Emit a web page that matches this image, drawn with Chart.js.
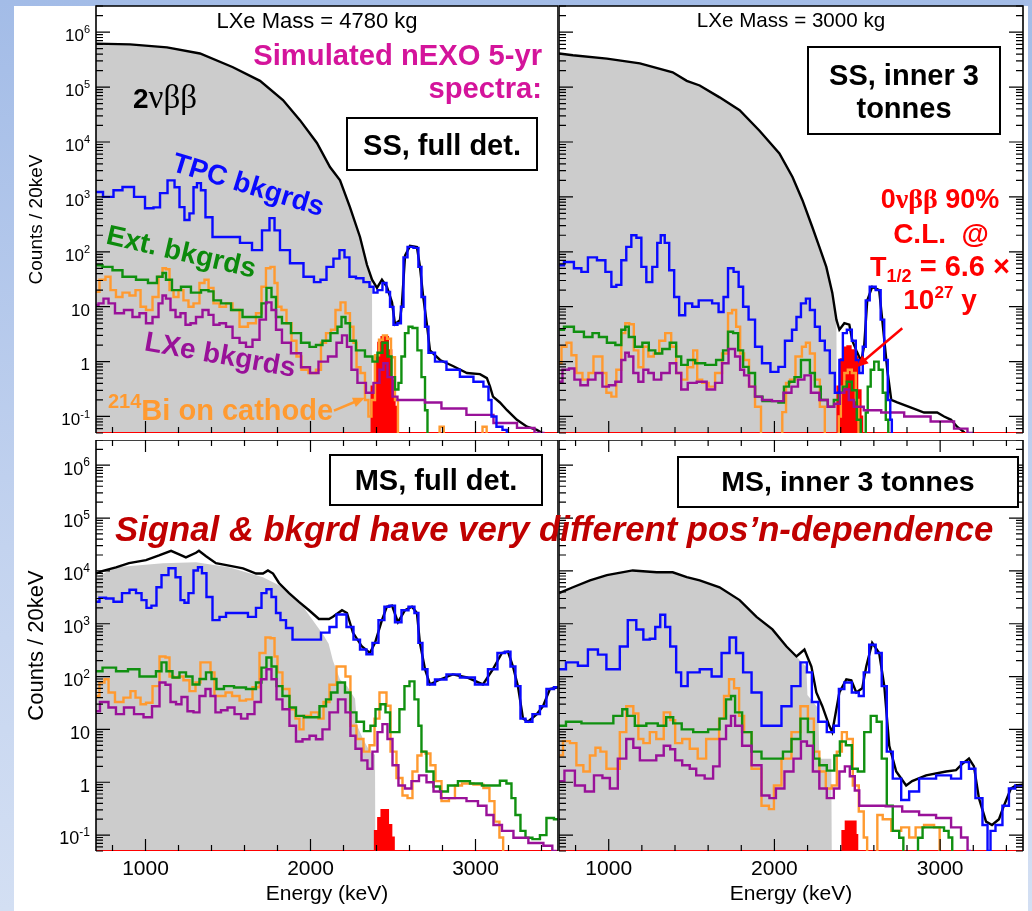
<!DOCTYPE html>
<html>
<head>
<meta charset="utf-8">
<title>nEXO simulated 5-yr spectra</title>
<script src="https://cdn.jsdelivr.net/npm/chart.js@4.4.1/dist/chart.umd.min.js"></script>
<style>
  html, body { margin: 0; padding: 0; }
  body { width: 1032px; height: 911px; overflow: hidden; position: relative;
         background: linear-gradient(to bottom, #a3bce7 0%, #c3d3ef 60%, #d3dff3 100%); }
  #sheet { position: absolute; left: 14px; top: 6px; width: 1014px; height: 905px; background: #fff; }
  canvas { position: absolute; }
</style>
</head>
<body>
<div id="sheet"></div>
<canvas id="ssFull" width="560" height="440" style="left:0;top:0"></canvas>
<canvas id="ssInner" width="473" height="440" style="left:559px;top:0"></canvas>
<canvas id="msFull" width="560" height="471" style="left:0;top:440px"></canvas>
<canvas id="msInner" width="473" height="471" style="left:559px;top:440px"></canvas>
<canvas id="notes" width="1032" height="911" style="left:0;top:0"></canvas>
<script>
// axis ticks / labels
const energyTicks = [800, 1000, 1200, 1400, 1600, 1800, 2000, 2200, 2400, 2600, 2800, 3000, 3200, 3400];
const energyLabels = [1000, 2000, 3000];
const decades = [-1, 0, 1, 2, 3, 4, 5, 6];
const ymin = 0.05, ymax = 3e6;

// ---- SS, full detector (4780 kg) : [energy keV, counts / 20 keV] ----
const ssFullTotal = [[700,6.2e5],[906,6.0e5],[1130,5.3e5],[1330,4.1e5],[1530,2.3e5],[1694,1.3e5],[1833,5.8e4],[1936,2.5e4],[2039,9.6e3],[2118,3.5e3],[2179,2.0e3],[2239,650],[2300,186],[2342,58],[2373,31],[2403,22],[2433,31],[2463,23],[2494,12],[2512,4.8],[2542,5.7],[2554,11],[2573,85],[2603,128],[2645,122],[2663,55],[2682,16],[2706,4.6],[2724,1.6],[2785,1.07],[2863,0.83],[2948,0.62],[3027,0.59],[3069,0.5],[3088,0.35],[3106,0.23],[3148,0.18],[3191,0.13],[3251,0.087],[3312,0.065],[3372,0.057],[3403,0.05],[3420,0.01]];
const ssFullTwoNu = [[700,6.2e5],[906,6.0e5],[1130,5.3e5],[1330,4.1e5],[1530,2.3e5],[1694,1.3e5],[1833,5.8e4],[1936,2.5e4],[2039,9.6e3],[2118,3.5e3],[2179,2.0e3],[2239,650],[2300,186],[2342,58],[2373,31],[2376,0.01]];
const ssFullTpc = [[700,1230],[785,1000],[827,1320],[894,1510],[967,1000],[1027,620],[1070,645],[1106,1170],[1161,2000],[1191,1500],[1221,650],[1251,380],[1282,500],[1300,1500],[1324,1780],[1348,1320],[1379,425],[1433,186],[1530,186],[1615,145],[1676,107],[1736,245],[1767,410],[1797,245],[1833,107],[1918,62],[1997,35],[2045,28],[2076,31],[2118,53],[2160,75],[2191,107],[2221,79],[2251,35],[2300,33],[2342,28],[2373,23],[2391,18],[2421,20],[2451,27],[2470,18.5],[2494,9.9],[2512,4.7],[2542,5.0],[2554,10],[2573,79],[2603,123],[2645,118],[2663,53],[2682,15],[2706,4.3],[2724,1.45],[2785,1.0],[2863,0.71],[2948,0.53],[3027,0.43],[3069,0.35],[3088,0.2],[3106,0.1],[3148,0.065],[3179,0.057],[3200,0.01]];
const ssFullExt = [[700,57],[779,53],[821,46],[900,35],[985,31],[1045,27],[1094,35],[1112,41],[1136,31],[1185,20],[1245,23],[1306,18],[1367,20],[1397,19],[1427,13],[1488,11.5],[1549,8.7],[1627,6.5],[1688,6.5],[1718,11.5],[1748,22],[1779,15],[1803,6.5],[1851,5.0],[1912,3.3],[1973,2.2],[2015,1.85],[2051,2.0],[2094,2.4],[2148,3.3],[2179,4.3],[2197,6.5],[2227,5.0],[2251,2.4],[2300,1.6],[2360,1.24],[2391,1.0],[2421,1.45],[2451,2.2],[2482,1.24],[2500,0.52],[2524,0.31],[2542,0.41],[2560,1.24],[2585,3.3],[2603,4.3],[2633,4.1],[2663,1.6],[2682,0.52],[2706,0.13],[2712,0.01]];
const ssFullBi = [[700,18.6],[742,31],[773,35],[803,20],[839,15],[882,18],[924,16],[955,20],[985,10],[1021,8.7],[1064,15],[1094,35],[1112,50],[1136,48],[1155,20],[1185,15],[1215,20],[1245,13],[1276,10],[1306,11.5],[1348,27],[1367,31],[1397,22],[1427,11.5],[1470,10],[1506,11.5],[1549,8.7],[1591,4.3],[1651,5],[1688,7.6],[1718,23],[1742,50],[1773,53],[1791,27],[1809,10],[1839,8.7],[1870,5],[1900,2.4],[1930,1.24],[1960,0.71],[2015,0.62],[2051,0.71],[2076,2.2],[2112,3.3],[2136,3.8],[2167,8.7],[2197,12],[2227,7.6],[2251,4.3],[2270,2.2],[2288,0.79],[2318,0.62],[2342,0.2],[2360,0.1],[2379,0.2],[2403,1.3],[2427,2.5],[2451,3.0],[2476,2.6],[2500,1.2],[2524,0.2],[2536,0.01],[2780,0.01],[2785,0.065],[2805,0.065],[2810,0.01],[3040,0.01],[3045,0.065],[3065,0.065],[3070,0.01]];
const ssFullLxe = [[700,10.7],[730,11.5],[761,14],[791,11.5],[839,7.6],[900,8.7],[942,6.5],[985,7.6],[1021,5],[1064,6.5],[1094,11.5],[1112,16],[1136,14],[1167,8.7],[1197,6.5],[1227,7.6],[1258,4.7],[1288,5],[1324,6.5],[1367,8.7],[1397,7.1],[1427,4.7],[1470,5],[1506,4.3],[1549,2.7],[1591,2.2],[1627,1.85],[1670,2.5],[1712,5.8],[1748,12],[1779,8.7],[1803,3.8],[1851,2.2],[1912,1.42],[1973,0.79],[2021,0.62],[2076,1.0],[2136,1.24],[2179,2.2],[2203,3.0],[2239,1.85],[2257,0.71],[2312,0.41],[2360,0.27],[2403,0.41],[2433,0.71],[2451,0.93],[2482,0.52],[2512,0.23],[2542,0.2],[2663,0.2],[2724,0.18],[2863,0.14],[3027,0.107],[3191,0.076],[3312,0.062],[3403,0.05],[3420,0.01]];
const ssFullSignal = [[700,0.05],[2370,0.35],[2390,1.2],[2410,2.2],[2430,2.8],[2450,2.8],[2470,1.6],[2490,0.45],[2510,0.15],[2525,0.05],[3500,0.05]];

// ---- SS, inner 3 tonnes (3000 kg) ----
const ssInnerTotal = [[700,4.1e5],[784,3.8e5],[989,3.3e5],[1188,2.7e5],[1386,1.86e5],[1471,1.3e5],[1549,1.07e5],[1669,6.5e4],[1790,3.8e4],[1910,1.6e4],[2030,6.2e3],[2109,2.3e3],[2169,870],[2229,280],[2271,123],[2313,53],[2349,18],[2374,5.8],[2392,3.8],[2422,5.0],[2452,4.7],[2470,2.4],[2494,1.6],[2524,1.0],[2542,2.0],[2560,13],[2590,23],[2632,20],[2650,6],[2681,0.71],[2705,0.2],[2741,0.18],[2825,0.145],[2903,0.118],[2982,0.118],[3024,0.1],[3066,0.087],[3102,0.065],[3144,0.052],[3160,0.01]];
const ssInnerTwoNu = [[700,4.1e5],[784,3.8e5],[989,3.3e5],[1188,2.7e5],[1386,1.86e5],[1471,1.3e5],[1549,1.07e5],[1669,6.5e4],[1790,3.8e4],[1910,1.6e4],[2030,6.2e3],[2109,2.3e3],[2169,870],[2229,280],[2271,123],[2313,53],[2349,18],[2374,5.8],[2378,0.01]];
const ssInnerTpc = [[700,57],[760,65],[820,50],[850,43],[899,79],[959,70],[1001,43],[1031,23],[1061,25],[1091,70],[1121,123],[1152,200],[1182,180],[1212,53],[1242,28],[1284,53],[1302,145],[1326,200],[1350,145],[1380,46],[1410,15],[1440,7],[1483,11.5],[1525,10],[1561,13],[1603,13],[1645,11.5],[1681,8],[1705,15],[1735,50],[1772,43],[1796,23],[1826,10],[1862,5.8],[1904,1.86],[1946,0.93],[2006,0.65],[2042,0.8],[2085,2.4],[2127,3.8],[2139,6.5],[2181,11.5],[2199,14],[2229,8.7],[2259,4.3],[2289,2.4],[2319,1.6],[2349,0.62],[2380,0.27],[2404,1.07],[2422,3.3],[2452,3.8],[2482,2.4],[2500,1.07],[2524,0.62],[2542,1.86],[2560,13],[2590,23],[2632,20],[2650,5.8],[2675,1.07],[2693,0.2],[2705,0.087],[2712,0.01]];
const ssInnerExt = [[700,3.8],[760,4.3],[820,3.5],[881,2.8],[923,3.3],[959,2.8],[1019,2.2],[1061,2.0],[1091,3.8],[1109,4.3],[1133,2.8],[1182,1.86],[1224,2.2],[1260,1.6],[1302,1.4],[1344,1.7],[1392,2.2],[1422,1.24],[1453,0.87],[1501,1.07],[1543,0.93],[1621,0.87],[1675,1.07],[1705,1.6],[1735,3.5],[1766,3.3],[1796,1.6],[1826,0.8],[1862,0.62],[1904,0.23],[1952,0.19],[2006,0.19],[2042,0.18],[2073,0.35],[2103,0.43],[2139,0.52],[2181,1.07],[2199,1.07],[2229,0.62],[2259,0.35],[2301,0.2],[2343,0.15],[2374,0.2],[2404,0.27],[2422,0.35],[2452,0.43],[2482,0.3],[2512,0.087],[2530,0.01],[2548,0.01],[2554,0.118],[2572,0.35],[2590,0.71],[2614,1.0],[2644,0.71],[2663,0.27],[2681,0.087],[2693,0.01]];
const ssInnerBi = [[700,0.93],[730,1.86],[760,2.2],[790,1.3],[820,0.62],[863,0.47],[893,0.62],[923,1.24],[953,1.24],[971,0.62],[1001,0.27],[1031,0.23],[1061,0.71],[1091,3.3],[1109,5.0],[1139,4.8],[1164,1.6],[1194,0.79],[1224,1.86],[1254,1.24],[1290,1.4],[1320,2.4],[1362,3.3],[1392,1.86],[1422,0.62],[1453,0.47],[1495,0.79],[1525,1.6],[1543,0.47],[1585,0.41],[1621,0.35],[1663,0.62],[1705,1.4],[1735,7.6],[1754,8.7],[1784,4.3],[1802,1.4],[1832,1.07],[1862,0.35],[1904,0.15],[1934,0.01],[2040,0.01],[2055,0.12],[2085,0.41],[2103,0.47],[2151,1.24],[2181,1.86],[2199,2.2],[2229,1.4],[2259,0.47],[2289,0.15],[2319,0.01],[2385,0.01],[2392,0.1],[2410,0.35],[2434,0.62],[2452,0.71],[2482,0.62],[2500,0.2],[2515,0.01]];
const ssInnerLxe = [[700,0.43],[742,0.71],[778,0.75],[808,0.47],[850,0.37],[899,0.47],[941,0.62],[983,0.35],[1019,0.37],[1061,0.43],[1091,1.07],[1109,1.45],[1133,1.24],[1164,0.62],[1194,0.43],[1224,0.71],[1254,0.62],[1290,0.47],[1344,0.62],[1392,0.93],[1422,0.62],[1453,0.31],[1501,0.41],[1561,0.43],[1621,0.31],[1663,0.41],[1705,0.93],[1741,1.7],[1784,1.24],[1802,0.71],[1832,0.56],[1862,0.35],[1904,0.23],[1946,0.2],[2024,0.19],[2085,0.27],[2121,0.35],[2163,0.47],[2199,0.56],[2241,0.27],[2301,0.2],[2343,0.15],[2380,0.17],[2410,0.27],[2434,0.31],[2464,0.2],[2494,0.15],[2584,0.13],[2705,0.118],[2861,0.1],[3024,0.081],[3144,0.06],[3186,0.05],[3200,0.01]];
const ssInnerSignal = [[700,0.05],[2380,0.35],[2400,1.1],[2420,1.8],[2440,1.9],[2460,1.6],[2480,1.2],[2500,0.3],[2520,0.1],[2530,0.05],[3500,0.05]];

// ---- MS, full detector ----
const msFullTotal = [[700,8.9e3],[742,1.0e4],[821,1.17e4],[900,1.4e4],[1003,1.6e4],[1082,1.96e4],[1155,2.4e4],[1197,2.1e4],[1245,1.8e4],[1306,2.2e4],[1324,2.4e4],[1367,1.9e4],[1427,1.4e4],[1506,1.26e4],[1591,1.12e4],[1670,8.9e3],[1712,8.9e3],[1742,1.02e4],[1773,8.9e3],[1809,5.9e3],[1870,3.8e3],[1930,2.6e3],[1991,1.8e3],[2051,1.23e3],[2112,1.23e3],[2136,1.35e3],[2191,1.8e3],[2221,1.6e3],[2257,680],[2312,370],[2360,280],[2391,435],[2433,1.17e3],[2463,2.1e3],[2494,2.2e3],[2530,1.07e3],[2573,1.8e3],[2615,2.1e3],[2645,1.6e3],[2663,435],[2694,138],[2724,71],[2785,88],[2863,110],[2948,96],[3045,71],[3106,138],[3160,280],[3197,295],[3227,155],[3257,66],[3288,16],[3318,14],[3372,19.5],[3409,27.5],[3451,58],[3500,63]];
const msFullTwoNu = [[700,7.6e3],[821,1.17e4],[1106,1.4e4],[1306,1.45e4],[1506,1.17e4],[1712,7.6e3],[1833,4.9e3],[1955,2.1e3],[2040,900],[2080,600],[2110,420],[2136,200],[2179,88],[2221,66],[2270,38],[2282,12],[2318,6.6],[2360,3.8],[2391,3.3],[2395,0.01]];
const msFullTpc = [[700,2.6e3],[742,3.1e3],[779,3.0e3],[833,2.6e3],[882,3.8e3],[924,4.4e3],[961,3.8e3],[991,2.8e3],[1021,2.0e3],[1051,2.2e3],[1082,4.9e3],[1112,8.3e3],[1167,1.12e4],[1197,7.6e3],[1227,2.8e3],[1245,2.5e3],[1276,3.8e3],[1306,1.02e4],[1330,1.17e4],[1354,9.0e3],[1385,3.2e3],[1427,1.17e3],[1470,1.35e3],[1506,1.6e3],[1591,1.6e3],[1651,1.35e3],[1688,2.0e3],[1718,3.8e3],[1748,4.5e3],[1779,3.2e3],[1803,1.6e3],[1833,1.17e3],[1870,830],[1912,500],[1973,500],[2033,500],[2094,680],[2136,870],[2179,1.5e3],[2197,1.5e3],[2239,870],[2282,500],[2318,325],[2360,265],[2391,435],[2433,1.17e3],[2463,2.1e3],[2494,2.2e3],[2530,1.07e3],[2573,1.8e3],[2615,2.1e3],[2645,1.6e3],[2663,435],[2694,138],[2724,71],[2785,88],[2863,110],[2948,96],[3045,71],[3106,138],[3160,280],[3197,295],[3227,155],[3257,66],[3288,16],[3318,14],[3372,19.5],[3409,27.5],[3451,58],[3500,63]];
const msFullExt = [[700,126],[779,148],[864,126],[924,138],[1003,100],[1045,100],[1082,126],[1112,186],[1142,126],[1185,96],[1227,120],[1264,100],[1306,71],[1348,90],[1385,120],[1415,90],[1445,58],[1506,66],[1567,62],[1651,58],[1688,77],[1718,148],[1748,230],[1779,155],[1809,66],[1851,43],[1894,26],[1930,18],[1991,17],[2033,17],[2076,27.5],[2112,37],[2136,50],[2191,77],[2227,50],[2257,21],[2300,14],[2348,9.3],[2379,11.7],[2409,24],[2439,30],[2470,21],[2494,8.9],[2524,8.9],[2554,24],[2585,66],[2615,81],[2645,37],[2663,11.7],[2682,3.8],[2724,1.6],[2767,0.83],[2803,0.67],[2863,0.87],[2924,1.05],[3009,0.95],[3069,0.87],[3130,0.87],[3166,1.07],[3209,0.95],[3227,0.5],[3257,0.24],[3288,0.12],[3318,0.089],[3372,0.084],[3409,0.1],[3451,0.21],[3500,0.2]];
const msFullBi = [[700,43],[742,77],[761,89],[791,50],[839,33],[894,40],[924,53],[955,40],[985,30],[1021,32],[1064,66],[1106,240],[1136,230],[1155,100],[1185,95],[1215,100],[1245,85],[1288,53],[1318,77],[1348,186],[1379,186],[1409,120],[1427,43],[1470,43],[1500,50],[1549,43],[1591,35],[1627,37],[1670,63],[1712,280],[1742,550],[1773,530],[1791,240],[1809,120],[1851,58],[1894,24],[1924,16],[1942,10],[1973,18],[2033,21],[2064,16],[2094,33],[2136,70],[2179,155],[2197,155],[2227,100],[2257,11.7],[2300,6.6],[2342,3.8],[2373,5],[2403,16],[2433,50],[2451,50],[2470,28],[2500,3.8],[2542,1.2],[2573,0.56],[2603,0.5],[2633,1.6],[2663,3.2],[2682,3.8],[2712,3.5],[2742,2.1],[2773,1.05],[2815,0.44],[2863,0.5],[2888,0.87],[2948,0.95],[3027,0.9],[3069,0.78],[3100,0.44],[3130,0.18],[3160,0.09],[3175,0.01]];
const msFullLxe = [[700,22],[748,33],[803,26],[839,19.5],[900,26],[961,19.5],[1015,17],[1064,27.5],[1106,77],[1136,70],[1167,33],[1203,30],[1233,41],[1276,22],[1306,21],[1348,43],[1379,58],[1409,43],[1439,21],[1476,23],[1518,26],[1561,19.5],[1597,16],[1639,19.5],[1682,33],[1718,89],[1748,138],[1779,89],[1809,37],[1851,24],[1894,11.7],[1930,5.9],[1973,6.5],[2015,7.6],[2051,6.5],[2094,10],[2136,21],[2197,37],[2227,21],[2257,7.6],[2288,4.3],[2330,2.6],[2360,1.8],[2391,3.8],[2421,8.9],[2451,12.6],[2482,6.6],[2512,2.1],[2554,0.87],[2591,0.76],[2633,1.05],[2682,1.35],[2724,1.0],[2767,0.67],[2815,0.5],[2906,0.5],[2985,0.44],[3045,0.36],[3088,0.24],[3130,0.155],[3191,0.12],[3269,0.089],[3372,0.071],[3451,0.063],[3480,0.05],[3490,0.01]];
const msFullSignal = [[700,0.05],[2390,0.12],[2410,0.21],[2430,0.3],[2450,0.3],[2470,0.155],[2490,0.09],[2505,0.05],[3500,0.05]];

// ---- MS, inner 3 tonnes ----
const msInnerTotal = [[700,3.8e3],[784,4.9e3],[887,6.6e3],[989,8.3e3],[1145,1.02e4],[1290,9.4e3],[1386,9.4e3],[1471,7.6e3],[1549,6.6e3],[1669,4.9e3],[1790,2.8e3],[1892,1.35e3],[1988,780],[2073,370],[2133,240],[2181,325],[2223,155],[2253,50],[2289,27.5],[2331,11.7],[2349,8.9],[2392,50],[2434,89],[2464,85],[2494,50],[2530,60],[2554,155],[2590,435],[2632,280],[2663,66],[2693,4.9],[2735,1.6],[2795,0.87],[2831,1.05],[2915,1.35],[3036,1.6],[3096,1.7],[3132,2.2],[3174,2.8],[3204,2.0],[3234,0.5],[3277,0.18],[3313,0.155],[3355,0.2],[3385,0.36],[3427,0.76],[3457,0.87],[3500,0.9]];
const msInnerTwoNu = [[700,3.8e3],[784,4.9e3],[887,6.6e3],[989,8.3e3],[1145,1.02e4],[1290,9.4e3],[1386,9.4e3],[1471,7.6e3],[1549,6.6e3],[1669,4.9e3],[1790,2.8e3],[1892,1.35e3],[1988,780],[2073,370],[2133,240],[2193,150],[2199,45],[2265,25],[2271,2.8],[2343,2.8],[2347,0.01]];
const msInnerTpc = [[700,138],[784,186],[844,160],[905,325],[965,260],[1007,138],[1049,138],[1085,370],[1145,1.17e3],[1188,780],[1230,500],[1266,520],[1296,870],[1326,1.48e3],[1356,870],[1386,370],[1428,120],[1446,66],[1507,120],[1591,138],[1651,100],[1711,280],[1747,550],[1790,280],[1832,120],[1892,50],[1952,11.7],[2012,11.7],[2073,27.5],[2133,66],[2181,186],[2211,120],[2241,33],[2289,14],[2343,8.9],[2374,11.7],[2404,58],[2440,77],[2494,50],[2524,43],[2554,120],[2590,400],[2632,280],[2663,66],[2693,3.8],[2735,1.17],[2795,0.46],[2831,0.67],[2915,1.17],[3036,1.35],[3096,1.17],[3156,2.4],[3192,1.8],[3234,0.5],[3277,0.155],[3295,0.05],[3313,0.12],[3355,0.155],[3397,0.36],[3433,0.76],[3475,0.87],[3500,0.87]];
const msInnerExt = [[700,11.7],[784,14],[887,13],[989,13],[1067,18],[1097,24],[1127,18],[1188,11.7],[1266,13],[1326,11.7],[1368,17],[1410,13],[1471,10],[1549,8.9],[1651,10],[1687,16],[1729,37],[1747,43],[1778,21],[1832,8.9],[1892,3.8],[1952,2.8],[2030,2.8],[2073,3.8],[2133,6.6],[2181,16],[2223,8.9],[2253,2.8],[2289,2.1],[2343,1.66],[2380,3.2],[2410,5.9],[2452,5.0],[2482,1.8],[2524,1.6],[2560,8.9],[2602,18],[2632,14],[2663,2.8],[2693,0.36],[2735,0.12],[2771,0.089],[2785,0.01],[2860,0.01],[2873,0.089],[2915,0.14],[3011,0.14],[3036,0.12],[3066,0.09],[3080,0.01]];
const msInnerBi = [[700,3.2],[748,6.0],[784,5.5],[826,2.1],[868,1.6],[905,3.2],[935,4.5],[965,3.8],[1007,1.8],[1049,1.8],[1085,8.9],[1127,27.5],[1170,20],[1188,6.6],[1230,5.5],[1266,8.9],[1308,6.6],[1356,21],[1386,15],[1416,5.5],[1471,6.6],[1507,4.3],[1567,2.8],[1609,6.6],[1651,6.6],[1681,16],[1711,43],[1741,89],[1772,60],[1802,18],[1832,8.9],[1892,1.8],[1952,0.36],[1982,0.31],[2012,0.87],[2073,2.8],[2133,8.9],[2181,27.5],[2223,16],[2253,3.8],[2289,1.6],[2331,0.76],[2361,0.87],[2392,3.8],[2422,8.9],[2452,6.6],[2494,0.87],[2524,0.28],[2554,0.09],[2565,0.01],[2610,0.01],[2632,0.24],[2675,0.2],[2735,0.12],[2795,0.14],[2831,0.09],[2873,0.14],[2933,0.155],[2994,0.14],[3000,0.01]];
const msInnerLxe = [[700,1.05],[766,1.66],[826,0.87],[887,0.67],[935,1.35],[989,1.2],[1025,0.76],[1085,2.8],[1127,6.6],[1170,4.5],[1206,2.6],[1266,2.6],[1308,3.2],[1356,4.9],[1386,4.2],[1416,2.6],[1471,2.1],[1507,1.8],[1549,1.35],[1609,1.17],[1651,2.0],[1687,6.6],[1729,11.7],[1747,18],[1778,11.7],[1832,4.9],[1892,2.1],[1952,0.56],[1988,0.5],[2030,0.76],[2091,1.6],[2139,2.8],[2181,5.9],[2211,4.9],[2253,1.6],[2289,0.76],[2343,0.5],[2374,0.76],[2410,1.6],[2440,2.0],[2470,1.3],[2500,0.7],[2524,0.36],[2632,0.36],[2711,0.35],[2831,0.28],[2915,0.24],[3036,0.21],[3096,0.14],[3156,0.09],[3175,0.05],[3185,0.01]];
const msInnerSignal = [[700,0.05],[2410,0.12],[2430,0.18],[2450,0.18],[2470,0.18],[2490,0.1],[2500,0.05],[3500,0.05]];

const BLUE = '#0a0aff', GREEN = '#109010', ORANGE = '#ff9a30', PURPLE = '#991199',
      RED = '#ff0000', GRAY = '#cccccc';
const SANS = '"Liberation Sans", Arial, Helvetica, sans-serif';
const SERIF = '"Liberation Serif", "Times New Roman", serif';

function line(pairs, color, extra) {
    return Object.assign({
        data: pairs.map(p => ({ x: p[0], y: p[1] })),
        borderColor: color,
        borderWidth: 2.4,
        pointRadius: 0,
        tension: 0,
        fill: false
    }, extra);
}

// ROOT-like frame: inward ticks, power-of-ten labels
const framePlugin = {
    id: 'frame',
    afterDatasetsDraw(chart, args, o) {
        const { ctx, chartArea: a } = chart;
        const xs = chart.scales.x, ys = chart.scales.y;
        ctx.save();
        ctx.strokeStyle = '#000';
        ctx.lineWidth = 1.6;
        ctx.beginPath();
        ctx.moveTo(a.left, a.bottom);
        ctx.lineTo(a.left, a.top);
        ctx.lineTo(a.right, a.top);
        ctx.lineTo(a.right, a.bottom);
        ctx.stroke();

        ctx.lineWidth = 1.2;
        ctx.beginPath();
        energyTicks.forEach(e => {
            const px = xs.getPixelForValue(e);
            const len = e % 1000 === 0 ? 12 : 6;
            ctx.moveTo(px, a.bottom);
            ctx.lineTo(px, a.bottom - len);
            if (o.topTicks) {
                ctx.moveTo(px, a.top);
                ctx.lineTo(px, a.top + len);
            }
        });
        for (let k = -2; k <= 6; k++) {
            for (let m = 1; m <= 9; m++) {
                const v = m * Math.pow(10, k);
                if (v < ymin || v > ymax) continue;
                const py = ys.getPixelForValue(v);
                const len = m === 1 ? 14 : 7;
                ctx.moveTo(a.left, py);
                ctx.lineTo(a.left + len, py);
                if (o.rightTicks) {
                    ctx.moveTo(a.right, py);
                    ctx.lineTo(a.right - len, py);
                }
            }
        }
        ctx.stroke();

        ctx.fillStyle = '#000';
        if (o.yLabels) {
            const big = `${o.labelSize}px ${SANS}`;
            const small = `${Math.round(o.labelSize * 0.65)}px ${SANS}`;
            decades.forEach(k => {
                const py = ys.getPixelForValue(Math.pow(10, k));
                const base = k === 0 ? '1' : '10';
                const exp = (k === 0 || k === 1) ? '' : String(k);
                ctx.font = small;
                const w2 = exp ? ctx.measureText(exp).width : 0;
                ctx.font = big;
                const w1 = ctx.measureText(base).width;
                const x0 = a.left - 6 - w1 - w2;
                ctx.textAlign = 'left';
                ctx.textBaseline = 'alphabetic';
                ctx.fillText(base, x0, py + o.labelSize * 0.52);
                if (exp) {
                    ctx.font = small;
                    ctx.fillText(exp, x0 + w1, py + o.labelSize * 0.07);
                }
            });
            ctx.save();
            ctx.translate(a.left - 59, (a.top + a.bottom) / 2);
            ctx.rotate(-Math.PI / 2);
            ctx.font = `${o.titleSize}px ${SANS}`;
            ctx.textAlign = 'center';
            ctx.textBaseline = 'middle';
            ctx.fillText('Counts / 20keV', 0, 0);
            ctx.restore();
        }
        if (o.xLabels) {
            ctx.font = `21px ${SANS}`;
            ctx.textAlign = 'center';
            ctx.textBaseline = 'alphabetic';
            energyLabels.forEach(e => ctx.fillText(String(e), xs.getPixelForValue(e), a.bottom + 24));
            ctx.fillText('Energy (keV)', (a.left + a.right) / 2, a.bottom + 49);
        }
        ctx.restore();
    }
};

function makePanel(id, s, padding, frame) {
    const hist = { stepped: 'middle' };
    return new Chart(document.getElementById(id), {
        type: 'line',
        data: {
            datasets: [
                line(s.tpc, BLUE, hist),
                line(s.lxe, PURPLE, hist),
                line(s.ext, GREEN, hist),
                line(s.bi, ORANGE, hist),
                line(s.signal, RED, { stepped: true, fill: 'start', backgroundColor: RED, borderWidth: 2 }),
                line(s.total, '#000'),
                line(s.twoNu, 'rgba(0,0,0,0)', { fill: 'start', backgroundColor: GRAY, borderWidth: 0 })
            ]
        },
        options: {
            responsive: false,
            animation: false,
            events: [],
            layout: { padding: padding },
            scales: {
                x: { type: 'linear', min: 700, max: 3500, display: false },
                y: { type: 'logarithmic', min: ymin, max: ymax, display: false }
            },
            plugins: {
                legend: { display: false },
                tooltip: { enabled: false },
                frame: frame
            }
        },
        plugins: [framePlugin]
    });
}

const ssFullChart = makePanel('ssFull',
    { total: ssFullTotal, twoNu: ssFullTwoNu, tpc: ssFullTpc, ext: ssFullExt, bi: ssFullBi, lxe: ssFullLxe, signal: ssFullSignal },
    { left: 96, top: 6, right: 2, bottom: 7 },
    { yLabels: true, labelSize: 17, titleSize: 19 });
const ssInnerChart = makePanel('ssInner',
    { total: ssInnerTotal, twoNu: ssInnerTwoNu, tpc: ssInnerTpc, ext: ssInnerExt, bi: ssInnerBi, lxe: ssInnerLxe, signal: ssInnerSignal },
    { left: 0, top: 6, right: 9, bottom: 7 },
    { rightTicks: true });
const msFullChart = makePanel('msFull',
    { total: msFullTotal, twoNu: msFullTwoNu, tpc: msFullTpc, ext: msFullExt, bi: msFullBi, lxe: msFullLxe, signal: msFullSignal },
    { left: 96, top: 0, right: 2, bottom: 60 },
    { yLabels: true, xLabels: true, topTicks: true, labelSize: 18, titleSize: 22 });
const msInnerChart = makePanel('msInner',
    { total: msInnerTotal, twoNu: msInnerTwoNu, tpc: msInnerTpc, ext: msInnerExt, bi: msInnerBi, lxe: msInnerLxe, signal: msInnerSignal },
    { left: 0, top: 0, right: 9, bottom: 60 },
    { xLabels: true, topTicks: true, rightTicks: true });

// ---- annotations on the overlay ----
const nc = document.getElementById('notes').getContext('2d');

function runs(parts, x, y, align) {
    let w = 0;
    parts.forEach(p => { nc.font = p[1]; w += nc.measureText(p[0]).width; });
    let cx = align === 'center' ? x - w / 2 : align === 'right' ? x - w : x;
    nc.textAlign = 'left';
    nc.textBaseline = 'alphabetic';
    parts.forEach(p => {
        nc.font = p[1];
        nc.fillStyle = p[2];
        nc.fillText(p[0], cx, y + (p[3] || 0));
        cx += nc.measureText(p[0]).width;
    });
}

function box(x, y, w, h) {
    nc.fillStyle = '#fff';
    nc.fillRect(x, y, w, h);
    nc.strokeStyle = '#000';
    nc.lineWidth = 2;
    nc.strokeRect(x, y, w, h);
}

function tilted(text, cx, cy, deg, color) {
    nc.save();
    nc.translate(cx, cy);
    nc.rotate(deg * Math.PI / 180);
    nc.font = `bold 28px ${SANS}`;
    nc.fillStyle = color;
    nc.textAlign = 'center';
    nc.textBaseline = 'middle';
    nc.fillText(text, 0, 0);
    nc.restore();
}

// arrow whose tip sits on a data point of a chart
function arrow(chart, canvasLeft, canvasTop, energy, counts, dx, dy, color) {
    const tx = canvasLeft + chart.scales.x.getPixelForValue(energy);
    const ty = canvasTop + chart.scales.y.getPixelForValue(counts);
    const sx = tx + dx, sy = ty + dy;
    const ang = Math.atan2(ty - sy, tx - sx);
    nc.strokeStyle = color;
    nc.fillStyle = color;
    nc.lineWidth = 2.5;
    nc.beginPath();
    nc.moveTo(sx, sy);
    nc.lineTo(tx - 8 * Math.cos(ang), ty - 8 * Math.sin(ang));
    nc.stroke();
    nc.beginPath();
    nc.moveTo(tx, ty);
    nc.lineTo(tx - 12 * Math.cos(ang) + 5 * Math.sin(ang), ty - 12 * Math.sin(ang) - 5 * Math.cos(ang));
    nc.lineTo(tx - 12 * Math.cos(ang) - 5 * Math.sin(ang), ty - 12 * Math.sin(ang) + 5 * Math.cos(ang));
    nc.closePath();
    nc.fill();
}

const MAG = '#d4149b';
runs([['LXe Mass = 4780 kg', `22px ${SANS}`, '#000']], 317, 28, 'center');
runs([['LXe Mass = 3000 kg', `20.6px ${SANS}`, '#000']], 791, 27, 'center');
runs([['Simulated nEXO 5-yr', `bold 29.2px ${SANS}`, MAG]], 542, 65, 'right');
runs([['spectra:', `bold 29.2px ${SANS}`, MAG]], 542, 98, 'right');
runs([['2', `bold 28px ${SANS}`, '#000'], ['\u03bd\u03b2\u03b2', `33px ${SERIF}`, '#000']], 133, 108, 'left');

box(347, 118, 190, 52);
runs([['SS, full det.', `bold 29px ${SANS}`, '#000']], 442, 155, 'center');
box(808, 47, 192, 87);
runs([['SS, inner 3', `bold 29px ${SANS}`, '#000']], 904, 85, 'center');
runs([['tonnes', `bold 29px ${SANS}`, '#000']], 904, 118, 'center');

tilted('TPC bkgrds', 248, 186, 17, BLUE);
tilted('Ext. bkgrds', 181, 253, 13, '#0c8a0c');
tilted('LXe bkgrds', 220, 356, 10, PURPLE);
runs([['214', `bold 20px ${SANS}`, ORANGE, -12], ['Bi on cathode', `bold 29px ${SANS}`, ORANGE]], 108, 420, 'left');
arrow(ssFullChart, 0, 0, 2330, 0.22, -31, 13, ORANGE);

const RT = `bold 27px ${SANS}`;
runs([['0', RT, RED], ['\u03bd\u03b2\u03b2', `bold 28px ${SERIF}`, RED], [' 90%', RT, RED]], 940, 208, 'center');
runs([['C.L.  @', `bold 28px ${SANS}`, RED]], 941, 243, 'center');
runs([['T', RT, RED], ['1/2', `bold 18px ${SANS}`, RED, 6], [' = 6.6 \u00d7', `bold 29px ${SANS}`, RED]], 940, 276, 'center');
runs([['10', `bold 28px ${SANS}`, RED], ['27', `bold 17px ${SANS}`, RED, -11], [' y', `bold 28px ${SANS}`, RED]], 940, 309, 'center');
arrow(ssInnerChart, 559, 0, 2494, 0.79, 46, -39, RED);

box(330, 455, 212, 50);
runs([['MS, full det.', `bold 29px ${SANS}`, '#000']], 436, 490, 'center');
box(678, 457, 340, 50);
runs([['MS, inner 3 tonnes', `bold 28.5px ${SANS}`, '#000']], 848, 491, 'center');

// slide caption, sized to its span across both lower panels
const caption = 'Signal & bkgrd have very different pos\u2019n-dependence';
nc.font = `italic bold 32px ${SANS}`;
const capSize = 32 * 878 / nc.measureText(caption).width;
runs([[caption, `italic bold ${capSize.toFixed(1)}px ${SANS}`, '#c00000']], 115, 541, 'left');
</script>
</body>
</html>
